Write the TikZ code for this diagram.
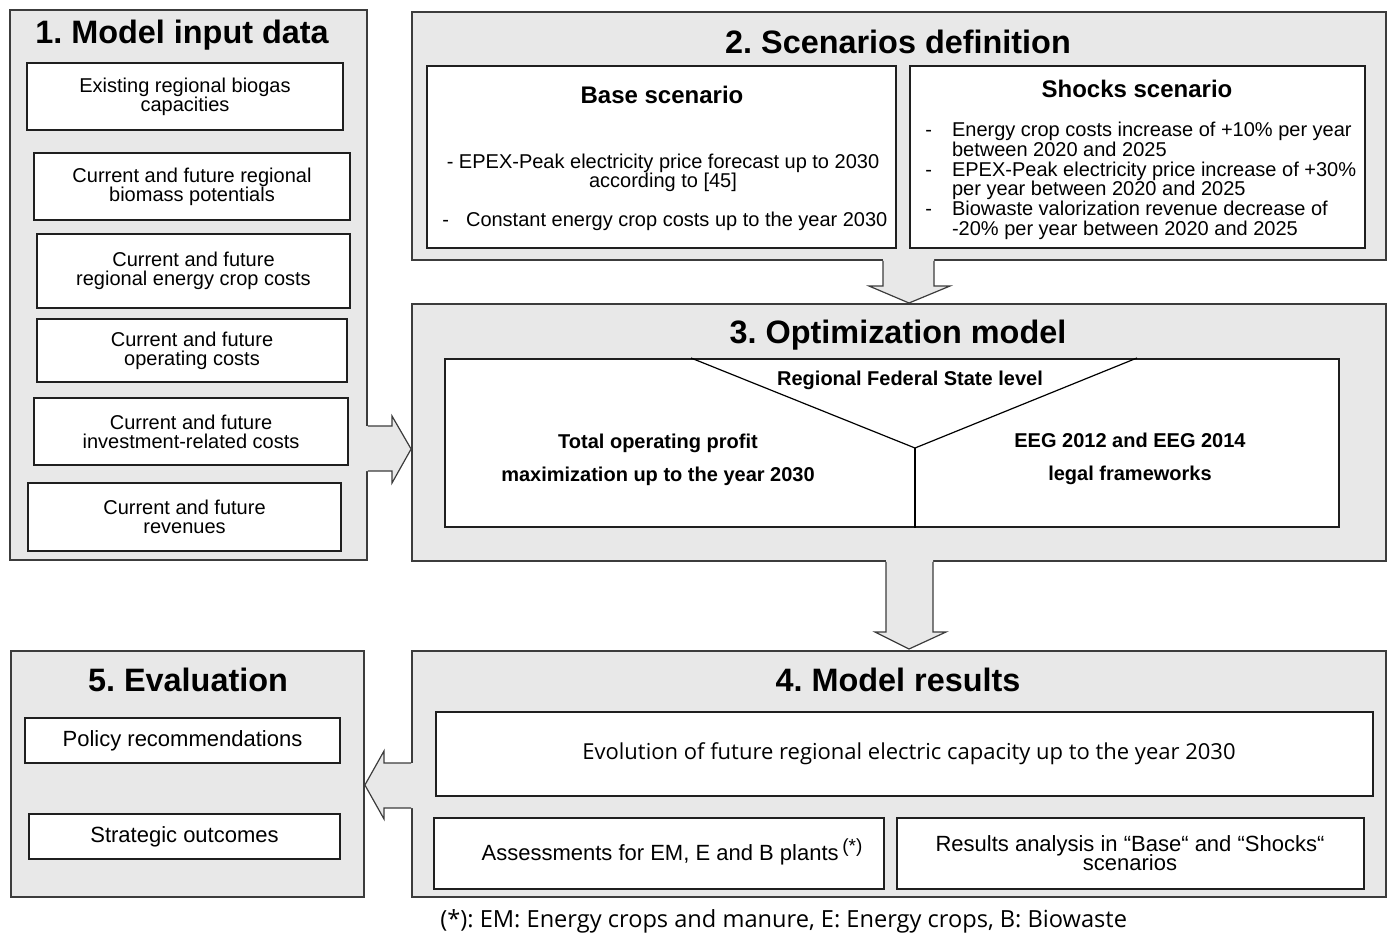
\documentclass[tikz,border=0pt]{standalone}
\usepackage{fontspec}
\setmainfont{Liberation Sans}
\newfontfamily\uifont{Open Sans}
\usetikzlibrary{fit}
\definecolor{panelgray}{HTML}{E8E8E8}
\definecolor{edgegray}{HTML}{3C3C3C}
\tikzset{
  panel/.style={draw=edgegray, fill=panelgray, line width=0.9pt, inner sep=0pt},
  inbox/.style={draw=black!88, fill=white, line width=1pt, inner sep=0pt},
  paneltitle/.style={anchor=base, font=\fontsize{16.2}{18}\selectfont\bfseries},
  subtitle/.style={anchor=base, font=\fontsize{12}{14}\selectfont\bfseries},
  bodytext/.style={inner sep=0pt, align=center, font=\fontsize{10}{9.5}\selectfont},
  boldtext/.style={inner sep=0pt, align=center, font=\fontsize{10}{16.8}\selectfont\bfseries},
  arrowedge/.style={draw=edgegray, line width=0.6pt, line join=miter},
}
\begin{document}
\frenchspacing
\begin{tikzpicture}[x=0.5pt, y=-0.5pt]
  \useasboundingbox (0,0) rectangle (1389,933);

  % Panels
  \node[panel, fit={(10,10) (367,560)}] (p1) {};
  \node[panel, fit={(412,12) (1386,260)}] (p2) {};
  \node[panel, fit={(412,304) (1386,561)}] (p3) {};
  \node[panel, fit={(412,651) (1386,897)}] (p4) {};
  \node[panel, fit={(11,651) (364,897)}] (p5) {};

  % Block arrow 1 -> 3
  \fill[panelgray] (365,426) -- (392,426) -- (392,416) -- (411,449) -- (392,483) -- (392,471) -- (365,471) -- cycle;
  \draw[arrowedge] (p1.east |- 0,426) -- (392,426) -- (392,416) -- (p3.west |- 0,449)
    -- (392,483) -- (392,471) -- (p1.east |- 0,471);

  % Block arrow 2 -> 3
  \fill[panelgray] (883,258) -- (883,286) -- (869,286) -- (909,303) -- (950,286) -- (934,286) -- (934,258) -- cycle;
  \draw[arrowedge] (p2.south -| 883,0) -- (883,286) -- (869,286) -- (909,303)
    -- (950,286) -- (934,286) -- (p2.south -| 934,0);

  % Block arrow 3 -> 4
  \fill[panelgray] (886,559) -- (886,632) -- (875,632) -- (909,649) -- (946,632) -- (933,632) -- (933,559) -- cycle;
  \draw[arrowedge] (p3.south -| 886,0) -- (886,632) -- (875,632) -- (909,649)
    -- (946,632) -- (933,632) -- (p3.south -| 933,0);

  % Block arrow 4 -> 5
  \fill[panelgray] (414,763) -- (384,763) -- (384,751) -- (365,785) -- (384,819) -- (384,808) -- (414,808) -- cycle;
  \draw[arrowedge] (p4.west |- 0,763) -- (384,763) -- (384,751) -- (p5.east |- 0,785)
    -- (384,819) -- (384,808) -- (p4.west |- 0,808);

  % 1. Model input data
  \node[paneltitle] (t1) at (182,43) {1. Model input data};
  \node[inbox, fit={(27,63) (343,130)}] (b11) {};
  \node[inbox, fit={(34,153) (350,220)}] (b12) {};
  \node[inbox, fit={(37,234) (350,308)}] (b13) {};
  \node[inbox, fit={(37,319) (347,382)}] (b14) {};
  \node[inbox, fit={(34,398) (348,465)}] (b15) {};
  \node[inbox, fit={(28,483) (341,551)}] (b16) {};
  \node[bodytext] (b11t) at (b11) {Existing regional biogas\\capacities};
  \node[bodytext] (b12t) at (b12) {Current and future regional\\biomass potentials};
  \node[bodytext] (b13t) at (b13) {Current and future\\regional energy crop costs};
  \node[bodytext] (b14t) at (b14) {Current and future\\operating costs};
  \node[bodytext] (b15t) at (b15) {Current and future\\investment-related costs};
  \node[bodytext] (b16t) at (b16) {Current and future\\revenues};

  % 2. Scenarios definition
  \node[paneltitle] (t2) at (898,53) {2. Scenarios definition};
  \node[inbox, fit={(427,66) (896,248)}] (base) {};
  \node[inbox, fit={(910,66) (1365,248)}] (shock) {};
  \node[subtitle] (basehd) at (662,103) {Base scenario};
  \node[bodytext] (base1) at (663,173) {- EPEX-Peak electricity price forecast up to 2030\\according to [45]};
  \node[bodytext, anchor=west] (base2) at (442,221) {-\hspace{0.85em}Constant energy crop costs up to the year 2030};
  \node[subtitle] (shockhd) at (1137,97) {Shocks scenario};
  \node[bodytext, anchor=north west] (shock1) at (925,122) {%
    \renewcommand{\arraystretch}{0.91}%
    \begin{tabular}{@{}l@{\hspace{10pt}}l@{}}
      - & Energy crop costs increase of +10\% per year\\
        & between 2020 and 2025\\
      - & EPEX-Peak electricity price increase of +30\%\\
        & per year between 2020 and 2025\\
      - & Biowaste valorization revenue decrease of\\
        & -20\% per year between 2020 and 2025
    \end{tabular}};

  % 3. Optimization model
  \node[paneltitle] (t3) at (898,343) {3. Optimization model};
  \node[inbox, fit={(445,359) (1339,527)}] (opt) {};
  \coordinate (vmid) at (915,448);
  \draw[line width=0.6pt] (opt.north -| 691,0) -- (vmid) -- (opt.north -| 1137,0);
  \draw[line width=0.6pt] (vmid) -- (opt.south -| vmid);
  \node[boldtext] (lvl) at (910,380) {Regional Federal State level};
  \node[boldtext] (obj) at (658,460) {Total operating profit\\maximization up to the year 2030};
  \node[boldtext] (leg) at (1130,459) {EEG 2012 and EEG 2014\\legal frameworks};

  % 4. Model results
  \node[paneltitle] (t4) at (898,691) {4. Model results};
  \node[inbox, fit={(436,712) (1373,796)}] (evo) {};
  \node[inner sep=0pt, font=\uifont\fontsize{11}{12}\selectfont] (evotxt) at (909,754)
    {Evolution of future regional electric capacity up to the year 2030};
  \node[inbox, fit={(434,818) (884,889)}] (asm) {};
  \node[bodytext, font=\fontsize{11}{10}\selectfont] (asmtxt) at (672,852)
    {Assessments for EM, E and B plants\,\raisebox{0.7ex}{\fontsize{9.5}{9.5}\selectfont(*)}};
  \node[inbox, fit={(897,818) (1364,889)}] (res) {};
  \node[bodytext, font=\fontsize{11}{10}\selectfont] (restxt) at (1130,853)
    {Results analysis in “Base“ and “Shocks“\\[-1.5pt]scenarios};

  % 5. Evaluation
  \node[paneltitle] (t5) at (188,691) {5. Evaluation};
  \node[inbox, fit={(25,718) (340,763)}] (pol) {};
  \node[inbox, fit={(29,814) (340,859)}] (str) {};
  \node[bodytext, font=\fontsize{11}{12}\selectfont] (poltxt) at (pol) {Policy recommendations};
  \node[bodytext, font=\fontsize{11}{12}\selectfont] (strtxt) at (str) {Strategic outcomes};

  % Footnote
  \node[anchor=west, inner sep=0pt, font=\uifont\fontsize{11.8}{13}\selectfont] (note) at (440,921)
    {(*): EM: Energy crops and manure, E: Energy crops, B: Biowaste};
\end{tikzpicture}
\end{document}
